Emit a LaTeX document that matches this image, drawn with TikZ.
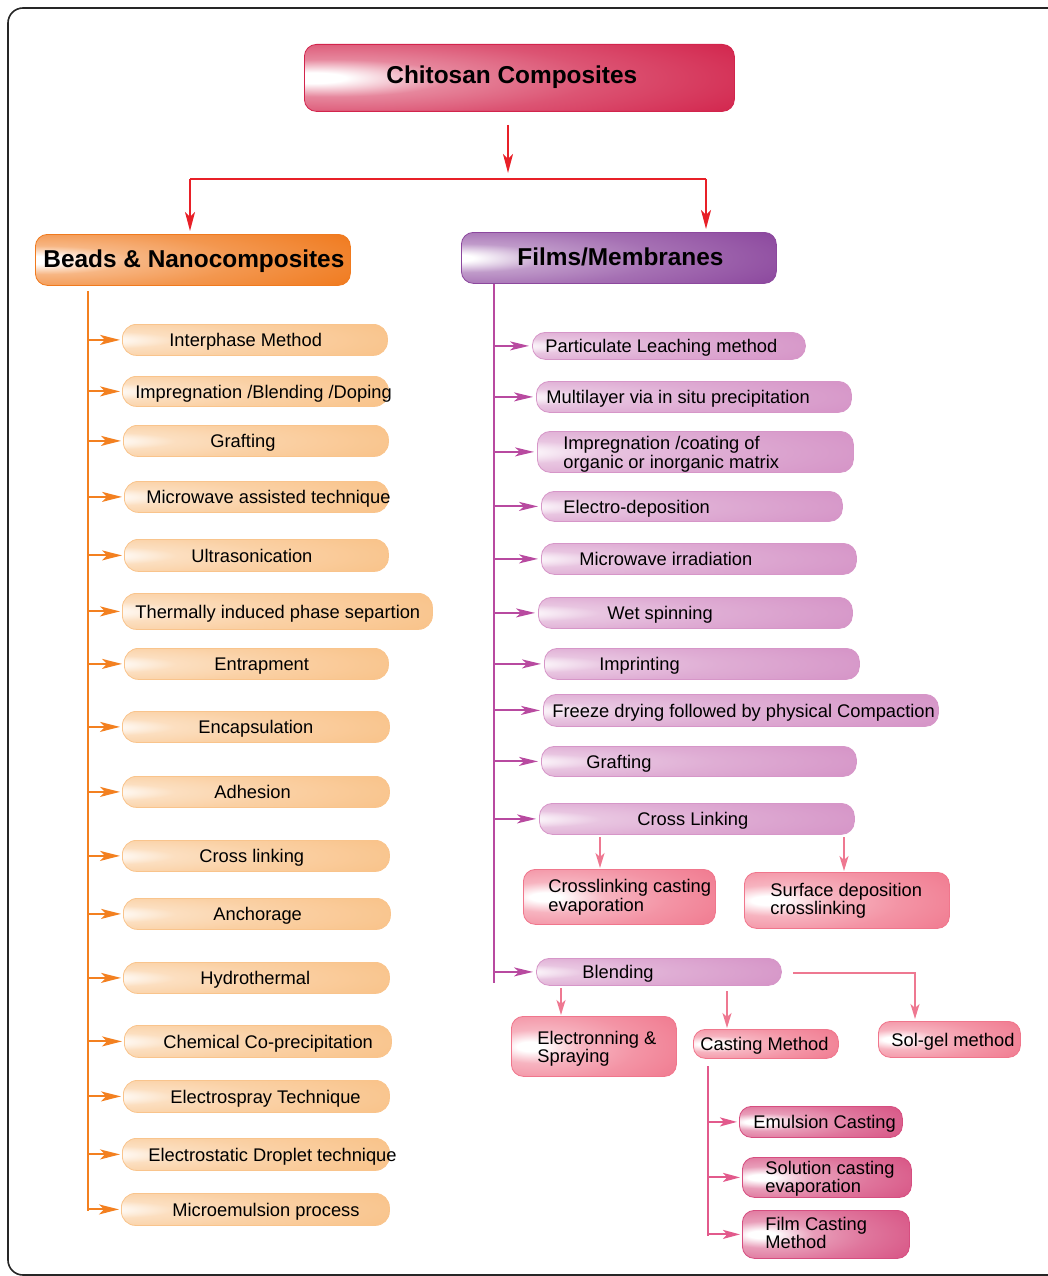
\documentclass[tikz,border=0pt]{standalone}
\usepackage{fontspec}
\setmainfont{Liberation Sans}
\usetikzlibrary{arrows.meta}

\definecolor{cRed}{RGB}{210,36,76}
\definecolor{cOrg}{RGB}{240,122,30}
\definecolor{cPur}{RGB}{140,72,158}
\definecolor{cLOrg}{RGB}{249,196,140}
\definecolor{cLPur}{RGB}{214,150,200}
\definecolor{cPink}{RGB}{240,118,140}
\definecolor{cDPink}{RGB}{214,78,128}
\definecolor{lRed}{RGB}{232,32,40}
\definecolor{lOrg}{RGB}{243,128,32}
\definecolor{lPur}{RGB}{184,74,160}
\definecolor{lPink}{RGB}{238,120,145}
\definecolor{lDPink}{RGB}{226,90,140}

\newcommand\mkglow[3]{\pgfdeclareradialshading{#1}{\pgfpoint{#3bp}{0bp}}{color(0bp)=(white); color(4bp)=(white); color(14bp)=(#2!55!white); color(28bp)=(#2!78!white); color(48bp)=(#2); color(120bp)=(#2)}}
\mkglow{gRed}{cRed}{-25}
\mkglow{gOrg}{cOrg}{-27}
\mkglow{gPur}{cPur}{-28}
\mkglow{gLOrg}{cLOrg}{-33}
\mkglow{gLPur}{cLPur}{-33}
\mkglow{gPink}{cPink}{-20}
\mkglow{gDPink}{cDPink}{-20}

\newcommand\bxt[4][-3pt]{\makebox[#2pt][l]{\hspace*{#3pt}\raisebox{#1}[\height][\depth]{\begin{tabular}{@{}l@{}}#4\end{tabular}}}}

\tikzset{
  bx/.style={anchor=north west, inner sep=0pt, shade, shading=#1, line width=0.8pt},
  tt/.style={bx=gRed, draw=cRed, rounded corners=12pt},
  hob/.style={bx=gOrg, draw=cOrg, rounded corners=12pt},
  hpb/.style={bx=gPur, draw=cPur, rounded corners=12pt},
  lo/.style={bx=gLOrg, draw=cLOrg, rounded corners=14pt},
  lp/.style={bx=gLPur, draw=cLPur, rounded corners=13pt},
  pk/.style={bx=gPink, draw=cPink, rounded corners=12pt},
  dp/.style={bx=gDPink, draw=cDPink, rounded corners=12pt},
  hfont/.style={font=\fontsize{24.4}{24.4}\selectfont\bfseries},
  rline/.style={draw=lRed, line width=2pt},
  rarrow/.style={rline, -{Stealth[length=19pt,width=10pt,inset=5pt]}},
  oline/.style={draw=lOrg, line width=2pt},
  oarrow/.style={oline, -{Stealth[length=20pt,width=10pt,inset=5pt]}, shorten >=2pt},
  pline/.style={draw=lPur, line width=2pt},
  parrow/.style={pline, -{Stealth[length=19pt,width=9pt,inset=5pt]}, shorten >=3pt},
  kline/.style={draw=lPink, line width=2pt},
  karrow/.style={kline, -{Stealth[length=15pt,width=9pt,inset=4pt]}, shorten >=1pt},
  dline/.style={draw=lDPink, line width=2pt},
  darrow/.style={dline, -{Stealth[length=17pt,width=9pt,inset=4pt]}, shorten >=2pt},
}

\begin{document}
\begin{tikzpicture}[x=1pt,y=-1pt, font=\fontsize{18.3}{18}\selectfont]
\useasboundingbox (0,0) rectangle (1048,1276);
\clip (0,0) rectangle (1048,1276);
\draw[line width=1.6pt, draw=black!85, rounded corners=15pt] (8,8) rectangle (1080,1275);

% title and headers
\node[tt, hfont, minimum width=430pt, minimum height=67pt] (t) at (304,44) {\bxt[0pt]{430}{82}{Chitosan Composites}};
\node[hob, hfont, minimum width=315pt, minimum height=51pt] (bh) at (35,234) {\bxt[-2pt]{315}{8}{Beads \& Nanocomposites}};
\node[hpb, hfont, minimum width=315pt, minimum height=51pt] (fh) at (461,232) {\bxt[-2pt]{315}{56}{Films/Membranes}};

\coordinate (j) at (508,179);
\coordinate (jl) at (190,179);
\coordinate (jr) at (706,179);
\draw[rarrow, shorten <=13pt, shorten >=6pt] (t.south -| j) -- (j);
\draw[rline] (jl) -- (jr);
\draw[rarrow, shorten >=3pt] (jl) -- (jl |- bh.north);
\draw[rarrow, shorten >=3pt] (jr) -- (jr |- fh.north);

% left column
\node[lo, minimum width=265pt, minimum height=31pt] (l1) at (122,324) {\bxt{265}{47}{Interphase Method}};
\node[lo, minimum width=266pt, minimum height=30pt] (l2) at (122,376) {\bxt{266}{13}{Impregnation /Blending /Doping}};
\node[lo, minimum width=265pt, minimum height=31pt] (l3) at (123,425) {\bxt{265}{87}{Grafting}};
\node[lo, minimum width=264pt, minimum height=31pt] (l4) at (124,481) {\bxt{264}{22}{Microwave assisted technique}};
\node[lo, minimum width=264pt, minimum height=32pt] (l5) at (124,539) {\bxt{264}{67}{Ultrasonication}};
\node[lo, minimum width=310pt, minimum height=36pt] (l6) at (122,593) {\bxt{310}{13}{Thermally induced phase separtion}};
\node[lo, minimum width=264pt, minimum height=31pt] (l7) at (124,648) {\bxt{264}{90}{Entrapment}};
\node[lo, minimum width=267pt, minimum height=31pt] (l8) at (122,711) {\bxt{267}{76}{Encapsulation}};
\node[lo, minimum width=267pt, minimum height=31pt] (l9) at (122,776) {\bxt{267}{92}{Adhesion}};
\node[lo, minimum width=267pt, minimum height=31pt] (l10) at (122,840) {\bxt{267}{77}{Cross linking}};
\node[lo, minimum width=267pt, minimum height=31pt] (l11) at (123,898) {\bxt{267}{90}{Anchorage}};
\node[lo, minimum width=266pt, minimum height=31pt] (l12) at (123,962) {\bxt{266}{77}{Hydrothermal}};
\node[lo, minimum width=267pt, minimum height=32pt] (l13) at (124,1025) {\bxt{267}{39}{Chemical Co-precipitation}};
\node[lo, minimum width=266pt, minimum height=32pt] (l14) at (123,1080) {\bxt{266}{47}{Electrospray Technique}};
\node[lo, minimum width=267pt, minimum height=32pt] (l15) at (122,1138) {\bxt{267}{26}{Electrostatic Droplet technique}};
\node[lo, minimum width=268pt, minimum height=32pt] (l16) at (121,1193) {\bxt{268}{51}{Microemulsion process}};

\coordinate (lt) at (88,290);
\coordinate (lb) at (88,1211);
\draw[oline, shorten <=5pt] (bh.south -| lt) -- (lb);
\foreach \n in {l1,l2,l3,l4,l5,l6,l7,l8,l9,l10,l11,l12,l13,l14,l15,l16}
  \draw[oarrow] (lt |- \n.west) -- (\n.west);

% right column
\node[lp, minimum width=273pt, minimum height=27pt] (r1) at (532,332) {\bxt{273}{13}{Particulate Leaching method}};
\node[lp, minimum width=315pt, minimum height=31pt] (r2) at (536,381) {\bxt{315}{10}{Multilayer via in situ precipitation}};
\node[lp, minimum width=316pt, minimum height=41pt] (r3) at (537,431) {\bxt{316}{26}{Impregnation /coating of\\organic or inorganic matrix}};
\node[lp, minimum width=301pt, minimum height=30pt] (r4) at (541,491) {\bxt{301}{22}{Electro-deposition}};
\node[lp, minimum width=315pt, minimum height=31pt] (r5) at (541,543) {\bxt{315}{38}{Microwave irradiation}};
\node[lp, minimum width=314pt, minimum height=31pt] (r6) at (538,597) {\bxt{314}{69}{Wet spinning}};
\node[lp, minimum width=315pt, minimum height=31pt] (r7) at (544,648) {\bxt{315}{55}{Imprinting}};
\node[lp, minimum width=395pt, minimum height=32pt] (r8) at (543,694) {\bxt{395}{9}{Freeze drying followed by physical Compaction}};
\node[lp, minimum width=315pt, minimum height=30pt] (r9) at (541,746) {\bxt{315}{45}{Grafting}};
\node[lp, minimum width=315pt, minimum height=31pt] (r10) at (539,803) {\bxt{315}{98}{Cross Linking}};
\node[lp, minimum width=245pt, minimum height=27pt] (r11) at (536,958) {\bxt{245}{46}{Blending}};

\coordinate (rt) at (494,283);
\coordinate (rb) at (494,983);
\draw[pline] (fh.south -| rt) -- (rb);
\foreach \n in {r1,r2,r3,r4,r5,r6,r7,r8,r9,r10,r11}
  \draw[parrow] (rt |- \n.west) -- (\n.west);

% cross linking children
\node[pk, minimum width=192pt, minimum height=55pt] (cce) at (523,869) {\bxt[-1pt]{192}{25}{Crosslinking casting\\evaporation}};
\node[pk, minimum width=205pt, minimum height=56pt] (sdc) at (744,872) {\bxt[-1pt]{205}{26}{Surface deposition\\crosslinking}};
\coordinate (c1) at (600,837);
\coordinate (c2) at (844,837);
\draw[karrow] (c1) -- (c1 |- cce.north);
\draw[karrow] (c2) -- (c2 |- sdc.north);

% blending children
\node[pk, minimum width=165pt, minimum height=60pt] (el) at (511,1016) {\bxt{165}{26}{Electronning \&\\Spraying}};
\node[pk, minimum width=145pt, minimum height=29pt] (cm) at (693,1029) {\bxt{145}{7}{Casting Method}};
\node[pk, minimum width=142pt, minimum height=36pt] (sg) at (878,1021) {\bxt{142}{13}{Sol-gel method}};
\coordinate (b1) at (561,988);
\coordinate (b2) at (727,991);
\coordinate (b3) at (793,973);
\coordinate (b4) at (915,973);
\draw[karrow] (b1) -- (b1 |- el.north);
\draw[karrow] (b2) -- (b2 |- cm.north);
\draw[karrow, shorten >=2pt] (b3) -- (b4) -- (b4 |- sg.north);

% casting method children
\node[dp, minimum width=163pt, minimum height=31pt] (e1) at (739,1106) {\bxt{163}{14}{Emulsion Casting}};
\node[dp, minimum width=169pt, minimum height=40pt] (e2) at (742,1157) {\bxt[-2pt]{169}{23}{Solution casting\\evaporation}};
\node[dp, minimum width=167pt, minimum height=48pt] (e3) at (742,1210) {\bxt[-1pt]{167}{23}{Film Casting\\Method}};
\coordinate (ct) at (708,1066);
\coordinate (cb) at (708,1236);
\draw[dline] (ct) -- (cb);
\foreach \n in {e1,e2,e3}
  \draw[darrow] (ct |- \n.west) -- (\n.west);
\end{tikzpicture}
\end{document}
